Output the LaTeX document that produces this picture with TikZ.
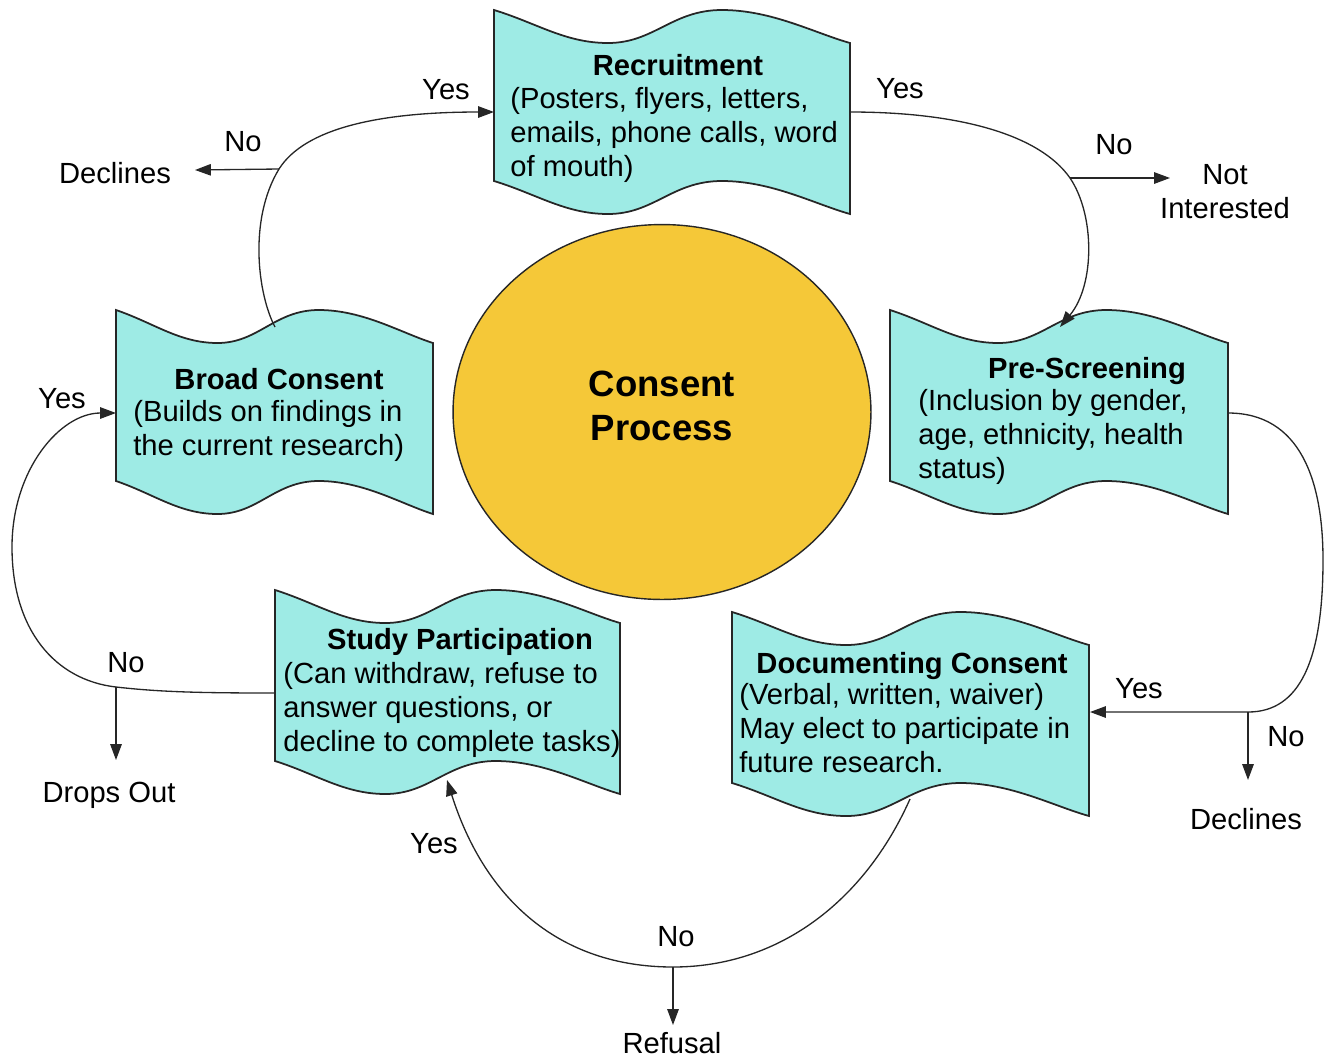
\documentclass[tikz,border=0pt]{standalone}
\usepackage{fontspec}
\setmainfont{Liberation Sans}
\usepackage{tikz}
\usetikzlibrary{arrows.meta}
\usetikzlibrary{shapes.geometric}

\definecolor{flagcyan}{RGB}{158,235,229}
\definecolor{coregold}{RGB}{245,200,56}
\newcommand{\boxfont}{\fontsize{16.6}{19.35}\selectfont}
\newcommand{\corefont}{\fontsize{20.8}{24.5}\selectfont\bfseries}

% wavy box: left, top, width
\newcommand{\flagshape}[3]{%
\draw[flag,shift={(#1,#2)}] (0,0) .. controls ({0.12*#3},13) and ({0.2*#3},33) .. ({0.32*#3},33)
 .. controls ({0.45*#3},33) and ({0.5*#3},0) .. ({0.64*#3},0)
 .. controls ({0.78*#3},0) and ({0.9*#3},23) .. (#3,33)
 -- (#3,204)
 .. controls ({0.9*#3},194) and ({0.78*#3},171) .. ({0.64*#3},171)
 .. controls ({0.5*#3},171) and ({0.45*#3},204) .. ({0.32*#3},204)
 .. controls ({0.2*#3},204) and ({0.12*#3},184) .. (0,171) -- cycle;}

\begin{document}
\begin{tikzpicture}[x=0.02cm, y=-0.02cm,
  flag/.style={draw=black!85, fill=flagcyan, line width=1pt},
  core/.style={ellipse, draw=black!85, fill=coregold, line width=0.8pt, minimum width=8.36cm, minimum height=7.5cm},
  arr/.style={draw=black!85, line width=0.75pt, -{Triangle[length=9pt,width=6.5pt]}},
  ttl/.style={font=\boxfont\bfseries, inner sep=0pt, anchor=base},
  body/.style={font=\boxfont, inner sep=0pt, align=left, anchor=base west},
  lbl/.style={font=\boxfont, inner sep=0pt, anchor=base}]
\useasboundingbox (0,0) rectangle (1325,1059);
% centre
\node[core] (core) at (662,412) {};
\node[font=\corefont, align=center, inner sep=0pt, anchor=base] (coreText) at (662,440) {Consent\\Process};
% draws boxes
\flagshape{494}{10}{356}
\flagshape{890}{310}{338}
\flagshape{116}{310}{317}
\flagshape{275}{590}{345}
\flagshape{732}{612}{357}
% box titles
\node[ttl] (recTitle) at (678,75) {Recruitment};
\node[ttl] (psTitle) at (1087,378) {Pre-Screening};
\node[ttl] (bcTitle) at (279,389) {Broad Consent};
\node[ttl] (spTitle) at (460,649) {Study Participation};
\node[ttl] (dcTitle) at (912,673) {Documenting Consent};
% box texts (base = last line)
\node[body] (recText) at (510,176) {(Posters, flyers, letters,\\emails, phone calls, word\\of mouth)};
\node[body] (psText) at (918,478) {(Inclusion by gender,\\age, ethnicity, health\\status)};
\node[body] (bcText) at (133,455) {(Builds on findings in\\the current research)};
\node[body] (spText) at (283,751) {(Can withdraw, refuse to\\answer questions, or\\decline to complete tasks)};
\node[body] (dcText) at (739,772) {(Verbal, written, waiver)\\May elect to participate in\\future research.};
% labels
\node[lbl] (yesRec) at (446,99) {Yes};
\node[lbl] (noRec) at (243,151) {No};
\node[lbl] (declA) at (115,183) {Declines};
\node[lbl] (yesPs) at (900,98) {Yes};
\node[lbl] (noPs) at (1114,154) {No};
\node[lbl, align=center] (notInt) at (1225,218) {Not\\Interested};
\node[lbl] (yesBc) at (62,408) {Yes};
\node[lbl] (noBc) at (126,672) {No};
\node[lbl] (drops) at (109,802) {Drops Out};
\node[lbl] (yesDc) at (1139,698) {Yes};
\node[lbl] (noDc) at (1286,746) {No};
\node[lbl] (declB) at (1246,829) {Declines};
\node[lbl] (yesSp) at (434,853) {Yes};
\node[lbl] (noSp) at (676,946) {No};
\node[lbl] (refusal) at (672,1053) {Refusal};
% points on the boxes
\coordinate (bcTop) at (275,327);
\coordinate (recL) at (494,112);
\coordinate (recR) at (850,112);
\coordinate (psTop) at (1060,327);
\coordinate (psR) at (1228,413);
\coordinate (dcR) at (1090,712);
\coordinate (dcBot) at (910,799);
\coordinate (spBot) at (447,780);
\coordinate (spL) at (275,693);
\coordinate (bcL) at (116,413);
% branch points and tips
\coordinate (bcSplit) at (279,169);
\coordinate (recSplit) at (1070,178);
\coordinate (psSplit) at (1248,712);
\coordinate (dcSplit) at (673,967);
\coordinate (spSplit) at (116,687);
\coordinate (declTipA) at (195,170);
\coordinate (notTip) at (1170,178);
\coordinate (declTipB) at (1248,780);
\coordinate (refTip) at (673,1025);
\coordinate (dropTip) at (116,760);
% draws connectors
\draw[arr] (bcTop) .. controls (258,295) and (248,220) .. (bcSplit) .. controls (305,128) and (380,112) .. (recL);
\draw[arr] (bcSplit) -- (declTipA);
\draw[arr] (recR) .. controls (960,112) and (1040,135) .. (recSplit) .. controls (1095,215) and (1095,285) .. (psTop);
\draw[arr] (recSplit) -- (notTip);
\draw[arr] (psR) .. controls (1300,413) and (1323,480) .. (1323,560) .. controls (1323,660) and (1300,712) .. (psSplit) -- (dcR);
\draw[arr] (psSplit) -- (declTipB);
\draw[arr] (dcBot) .. controls (865,900) and (780,967) .. (dcSplit) .. controls (560,967) and (485,900) .. (spBot);
\draw[arr] (dcSplit) -- (refTip);
\draw[arr] (spL) .. controls (200,693) and (160,692) .. (spSplit) .. controls (55,680) and (12,630) .. (12,547) .. controls (12,470) and (60,413) .. (bcL);
\draw[arr] (spSplit) -- (dropTip);
\end{tikzpicture}
\end{document}
